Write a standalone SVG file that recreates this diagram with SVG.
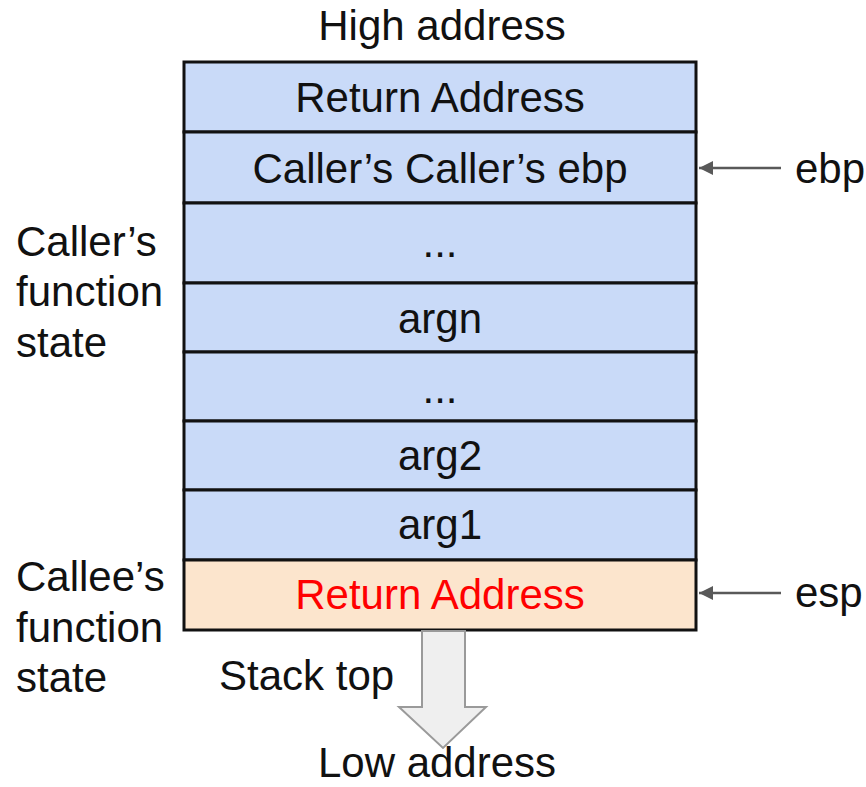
<svg xmlns="http://www.w3.org/2000/svg" width="866" height="787" viewBox="0 0 866 787">
<style>
.t{font-family:"Liberation Sans",Arial,sans-serif;font-size:42px;fill:#111;}
.c{text-anchor:middle;}
.blue{fill:#c9daf8;stroke:#111;stroke-width:3;}
.peach{fill:#fce5cd;stroke:#111;stroke-width:3;}
.ptr{stroke:#595959;stroke-width:2.5;fill:none;}
</style>
<defs>
<marker id="ah2" viewBox="0 0 10 10" markerWidth="18" markerHeight="14" refX="10" refY="5" orient="auto" markerUnits="userSpaceOnUse">
<path d="M0,0 L10,5 L0,10 Z" fill="#595959"/>
</marker>
</defs>
<rect width="866" height="787" fill="#fff"/>
<text class="t c" x="442" y="40">High address</text>
<g id="row1"><rect class="blue" x="184" y="62" width="512" height="70"/><text class="t c" x="440" y="112">Return Address</text></g>
<g id="row2"><rect class="blue" x="184" y="132" width="512" height="71"/><text class="t c" x="440" y="183">Caller’s Caller’s ebp</text></g>
<g id="row3"><rect class="blue" x="184" y="203" width="512" height="80"/><text class="t c" x="440" y="257">...</text></g>
<g id="row4"><rect class="blue" x="184" y="283" width="512" height="69"/><text class="t c" x="440" y="333">argn</text></g>
<g id="row5"><rect class="blue" x="184" y="352" width="512" height="69"/><text class="t c" x="440" y="403">...</text></g>
<g id="row6"><rect class="blue" x="184" y="421" width="512" height="69"/><text class="t c" x="440" y="470">arg2</text></g>
<g id="row7"><rect class="blue" x="184" y="490" width="512" height="70"/><text class="t c" x="440" y="539">arg1</text></g>
<g id="row8"><rect class="peach" x="184" y="560" width="512" height="70"/><text class="t c" x="440" y="609" style="fill:#f00">Return Address</text></g>
<g id="connectors">
<line class="ptr" x1="781" y1="168" x2="699" y2="168" marker-end="url(#ah2)"/>
<line class="ptr" x1="781" y1="593" x2="699" y2="593" marker-end="url(#ah2)"/>
<path d="M422,631 L465,631 L465,707 L486,707 L443,748 L399,707 L422,707 Z" fill="#efefef" stroke="#9a9a9a" stroke-width="2"/>
</g>
<g id="ebp"><text class="t" x="795" y="183">ebp</text></g>
<g id="esp"><text class="t" x="795" y="607">esp</text></g>
<g id="callers"><text class="t" x="16" y="256">Caller’s</text><text class="t" x="16" y="306">function</text><text class="t" x="16" y="357">state</text></g>
<g id="callees"><text class="t" x="16" y="591">Callee’s</text><text class="t" x="16" y="642">function</text><text class="t" x="16" y="692">state</text></g>
<text class="t" x="219" y="690">Stack top</text>
<text class="t c" x="437" y="777">Low address</text>
</svg>
